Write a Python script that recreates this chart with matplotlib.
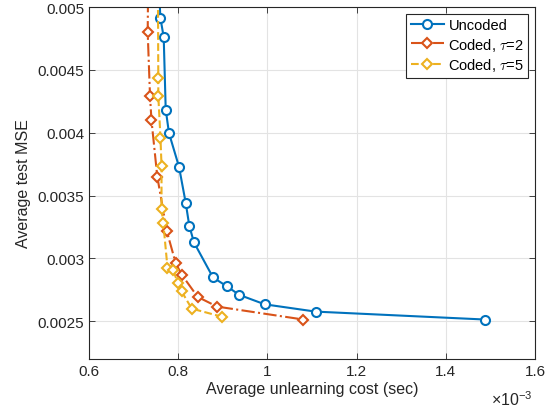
import numpy as np
import matplotlib.pyplot as plt
from matplotlib.ticker import FuncFormatter, MultipleLocator

plt.rcParams['font.family'] = ['Liberation Sans', 'DejaVu Sans']
plt.rcParams['mathtext.fontset'] = 'cm'

# Datos (costo en segundos, MSE)
costo_uncoded = [0.757e-3, 0.760e-3, 0.7675e-3, 0.772e-3, 0.7794e-3, 0.8018e-3, 0.8168e-3,
                 0.8249e-3, 0.8354e-3, 0.878e-3, 0.9087e-3, 0.937e-3, 0.9939e-3,
                 1.1079e-3, 1.4879e-3]
mse_uncoded = [0.00515, 0.004914, 0.004761, 0.004184, 0.003996, 0.003729, 0.003443,
               0.003259, 0.003127, 0.002849, 0.002779, 0.002710, 0.002635,
               0.002577, 0.002514]

costo_tau2 = [0.7325e-3, 0.7316e-3, 0.7368e-3, 0.7401e-3, 0.7531e-3, 0.7742e-3, 0.7944e-3,
              0.8078e-3, 0.8437e-3, 0.887e-3, 1.0805e-3]
mse_tau2 = [0.00515, 0.004800, 0.004293, 0.004098, 0.003651, 0.003220, 0.002962,
            0.002871, 0.002694, 0.002617, 0.002514]

costo_tau5 = [0.7545e-3, 0.7554e-3, 0.7554e-3, 0.7603e-3, 0.7626e-3, 0.7626e-3, 0.7666e-3,
              0.776e-3, 0.7883e-3, 0.7989e-3, 0.8074e-3, 0.8303e-3, 0.8982e-3]
mse_tau5 = [0.00515, 0.004436, 0.004293, 0.003958, 0.003735, 0.003392, 0.003281,
            0.002926, 0.002909, 0.002808, 0.002739, 0.002601, 0.002536]

fig = plt.figure(figsize=(5.52, 4.10), dpi=100)
ax = fig.add_axes([89 / 552, 1 - 360 / 410, 446 / 552, 352 / 410])

ax.plot(costo_uncoded, mse_uncoded, '-', color='#0072BD', lw=1.5, marker='o', ms=6.5,
        mfc='white', mew=1.5, label='Uncoded')
ax.plot(costo_tau2, mse_tau2, '-.', color='#D95319', lw=1.5, marker='D', ms=5.5,
        mfc='white', mew=1.5, label=r'Coded, $\tau$=2')
ax.plot(costo_tau5, mse_tau5, '--', color='#EDB120', lw=1.5, marker='D', ms=5.5,
        mfc='white', mew=1.5, label=r'Coded, $\tau$=5')

ax.set_xlim(0.6e-3, 1.6e-3)
ax.set_ylim(0.0022, 0.005)
ax.xaxis.set_major_locator(MultipleLocator(0.2e-3))
ax.yaxis.set_major_locator(MultipleLocator(0.0005))
ax.xaxis.set_major_formatter(FuncFormatter(lambda v, p: f'{v * 1e3:g}'))
ax.yaxis.set_major_formatter(FuncFormatter(lambda v, p: f'{round(v, 5):g}'))

ax.tick_params(direction='in', top=True, right=True, labelsize=11, length=4,
               width=0.6, colors='#262626')
ax.grid(True, color='#e3e3e3', lw=0.8)
ax.set_axisbelow(True)
for s in ax.spines.values():
    s.set_linewidth(0.8)
    s.set_color('#262626')

ax.set_xlabel('Average unlearning cost (sec)', fontsize=11.5, color='#262626', labelpad=2)
ax.set_ylabel('Average test MSE', fontsize=11.5, color='#262626', labelpad=5)
ax.text(0.995, -0.085, r'$\mathregular{\times 10^{-3}}$', transform=ax.transAxes,
        ha='right', va='top', fontsize=11.5, color='#262626')

leg = ax.legend(loc='upper right', fontsize=10.5, fancybox=False, edgecolor='#262626',
                framealpha=1, borderpad=0.3, handlelength=2.3, handletextpad=0.3,
                labelspacing=0.25, borderaxespad=0.45)
leg.get_frame().set_linewidth(0.8)

fig.savefig('out.png', dpi=100)
